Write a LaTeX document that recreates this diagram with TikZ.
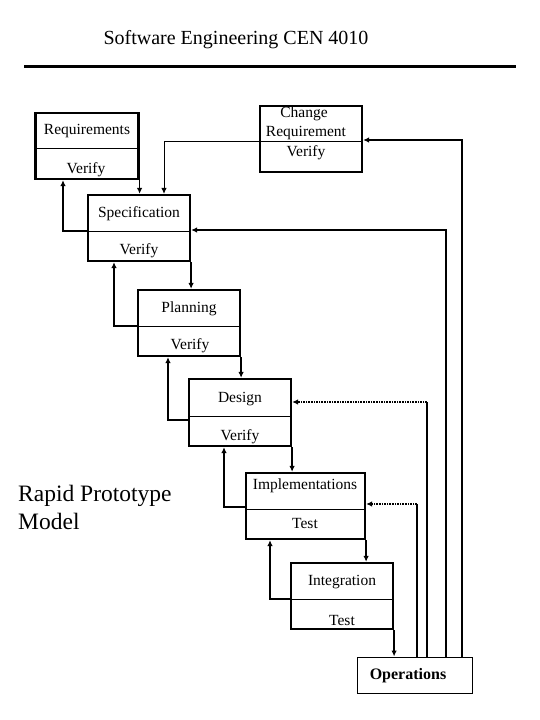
\documentclass[tikz,border=0pt]{standalone}
\usepackage{fontspec}
\setmainfont{Liberation Serif}
\usetikzlibrary{arrows.meta}
\begin{document}
\begin{tikzpicture}[x=1pt,y=-1pt,
  box/.style={draw,line width=2.2pt,minimum width=102pt,minimum height=66pt,inner sep=0pt},
  lbl/.style={font=\fontsize{15.5}{17}\selectfont,inner sep=0pt},
  divline/.style={line width=0.8pt},
  conn/.style={line width=1.6pt},
  arr/.style={line width=1.6pt,-{Latex[length=6pt,width=5.5pt]}},
  thinarr/.style={line width=1pt,-{Latex[length=6pt,width=5.5pt]}},
  dotarr/.style={line width=1.6pt,densely dotted,-{Latex[length=6pt,width=5.5pt]}}]
\useasboundingbox (0,0) rectangle (540,720);
% title
\node[font=\fontsize{20}{24}\selectfont,anchor=base] (title) at (236,44) {Software Engineering CEN 4010};
\coordinate (tl) at (24,66);
\coordinate (tr) at (516,66);
\draw[line width=3pt] (tl) -- (tr);
% side caption
\node[font=\fontsize{23.5}{28}\selectfont,align=left,anchor=north west,inner sep=0pt] (cap) at (18,485) {Rapid Prototype\\Model};
% boxes
\node[box,minimum width=103pt] (req) at (87,146) {};
\node[box] (chg) at (311,139) {};
\node[box] (spec) at (139,228) {};
\node[box] (plan) at (189,323) {};
\node[box,minimum height=67pt] (des) at (240,412.5) {};
\node[box,minimum width=119pt] (impl) at (305.5,506) {};
\node[box] (integ) at (342,596) {};
\node[draw,line width=1pt,minimum width=115pt,minimum height=36pt,inner sep=0pt] (ops) at (414.5,675) {};
% dividers
\coordinate (dreq) at (0,148);
\coordinate (dchg) at (0,141);
\coordinate (dspec) at (0,231);
\coordinate (dplan) at (0,326);
\coordinate (ddes) at (0,416);
\coordinate (dimpl) at (0,509);
\coordinate (dinteg) at (0,599);
\draw[divline] (req.west |- dreq) -- (req.east |- dreq);
\draw[divline] (chg.west |- dchg) -- (chg.east |- dchg);
\draw[divline] (spec.west |- dspec) -- (spec.east |- dspec);
\draw[divline] (plan.west |- dplan) -- (plan.east |- dplan);
\draw[divline] (des.west |- ddes) -- (des.east |- ddes);
\draw[divline] (impl.west |- dimpl) -- (impl.east |- dimpl);
\draw[divline] (integ.west |- dinteg) -- (integ.east |- dinteg);
% labels
\node[lbl] (reqa) at (87,131) {Requirements};
\node[lbl] (reqb) at (86,170) {Verify};
\node[lbl] (chga) at (304,114) {Change};
\node[lbl] (chgb) at (306,133) {Requirement};
\node[lbl] (chgc) at (306,153) {Verify};
\node[lbl] (speca) at (139,214) {Specification};
\node[lbl] (specb) at (139,251) {Verify};
\node[lbl] (plana) at (189,309) {Planning};
\node[lbl] (planb) at (190,346) {Verify};
\node[lbl] (desa) at (240,399) {Design};
\node[lbl] (desb) at (240,437) {Verify};
\node[lbl] (impla) at (305,486) {Implementations};
\node[lbl] (implb) at (305,523) {Test};
\node[lbl] (intega) at (342,582) {Integration};
\node[lbl] (integb) at (342,620) {Test};
\node[font=\bfseries\fontsize{16}{18}\selectfont,inner sep=0pt] (opsa) at (408,676) {Operations};
% forward arrows
\draw[arr] (req.south east) -- (req.south east |- spec.north);
\draw[arr] (spec.south east) -- (spec.south east |- plan.north);
\draw[arr] (plan.south east) -- (plan.south east |- des.north);
\draw[arr] (des.south east) -- (des.south east |- impl.north);
\draw[arr] (impl.south east) -- (impl.south east |- integ.north);
\draw[arr] (integ.south east) -- (integ.south east |- ops.north);
% feedback arrows
\coordinate (f1) at (63,0);
\coordinate (f2) at (114,0);
\coordinate (f3) at (168,0);
\coordinate (f4) at (224,0);
\coordinate (f5) at (270,0);
\coordinate (dfb) at (0,420);
\coordinate (ifb) at (0,507);
\draw[arr] (spec.west |- dspec) -| (f1 |- req.south);
\draw[arr] (plan.west |- dplan) -| (f2 |- spec.south);
\draw[arr] (des.west |- dfb) -| (f3 |- plan.south);
\draw[arr] (impl.west |- ifb) -| (f4 |- des.south);
\draw[arr] (integ.west |- dinteg) -| (f5 |- impl.south);
% change requirement to specification
\coordinate (cx) at (164,0);
\draw[thinarr] (chg.west |- dchg) -| (cx |- spec.north);
% return lines from operations
\coordinate (r1) at (462,0);
\coordinate (r2) at (446,0);
\coordinate (r3) at (427,0);
\coordinate (r4) at (417,0);
\coordinate (y1) at (0,140);
\coordinate (y2) at (0,230);
\coordinate (y3) at (0,402);
\coordinate (y4) at (0,504);
\draw[arr] (ops.north -| r1) |- (chg.east |- y1);
\draw[arr] (ops.north -| r2) |- (spec.east |- y2);
\draw[conn] (ops.north -| r3) -- (r3 |- y3);
\draw[dotarr] (r3 |- y3) -- (des.east |- y3);
\draw[conn] (ops.north -| r4) -- (r4 |- y4);
\draw[dotarr] (r4 |- y4) -- (impl.east |- y4);
\end{tikzpicture}
\end{document}
